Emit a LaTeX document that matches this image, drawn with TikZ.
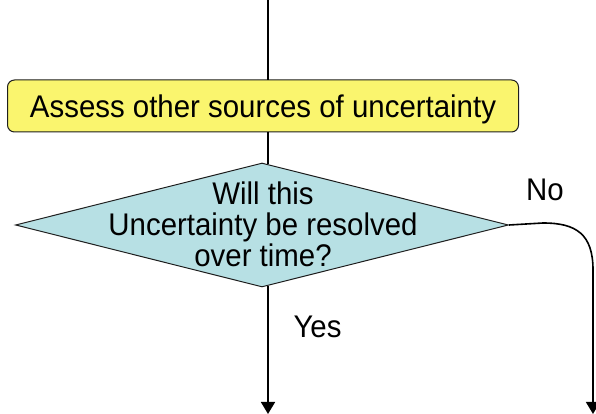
\documentclass[tikz,border=0pt]{standalone}
\usepackage{fontspec}
\setmainfont{Liberation Sans}
\newfontfamily\narrowarial[FakeStretch=0.94]{Liberation Sans}
\usetikzlibrary{arrows.meta,shapes.geometric}
\definecolor{boxyellow}{RGB}{250,245,110}
\definecolor{diamblue}{RGB}{183,224,228}
\definecolor{edgegray}{RGB}{30,30,30}
\begin{document}
\begin{tikzpicture}[x=1pt,y=1pt,
  flow/.style={line width=1.6pt,draw=black},
  arr/.style={flow,-{Triangle[width=14pt,length=12pt]}},
  procbox/.style={draw=edgegray,line width=1pt,fill=boxyellow,rounded corners=7pt,
    minimum width=511pt,minimum height=52pt,inner sep=0pt},
  decision/.style={diamond,draw=edgegray,line width=1pt,fill=diamblue,
    minimum width=493pt,minimum height=124pt,inner sep=0pt},
  txt/.style={font=\narrowarial\fontsize{31.3}{31}\selectfont},
  dtext/.style={txt,align=center}]
\useasboundingbox (0,0) rectangle (596,414);
\coordinate (top) at (268,414);
\node[procbox] (box) at (263,308) {};
\node[txt,text depth=0pt] (boxt) at (263,308) {Assess other sources of uncertainty};
\node[decision] (dec) at (262,189) {};
\node[dtext] (dect) at (263,189.5) {Will this\\Uncertainty be resolved\\over time?};
\coordinate (boxbot) at (268,282);
\coordinate (boxtop) at (268,334);
\coordinate (dectop) at (268,250);
\coordinate (decbot) at (268,128);
\coordinate (yesend) at (268,0);
\coordinate (noA) at (543,191);
\coordinate (noB) at (593,144);
\coordinate (noend) at (593,0);
\draw[flow] (top) -- (boxtop);
\draw[flow] (boxbot) -- (dectop);
\draw[arr] (decbot) -- (yesend);
\draw[arr] (dec.east) -- (noA) .. controls (576,191) and (593,180) .. (noB) -- (noend);
\node[txt] (yes) at (317.5,87) {Yes};
\node[txt] (no) at (545,224) {No};
\end{tikzpicture}
\end{document}
